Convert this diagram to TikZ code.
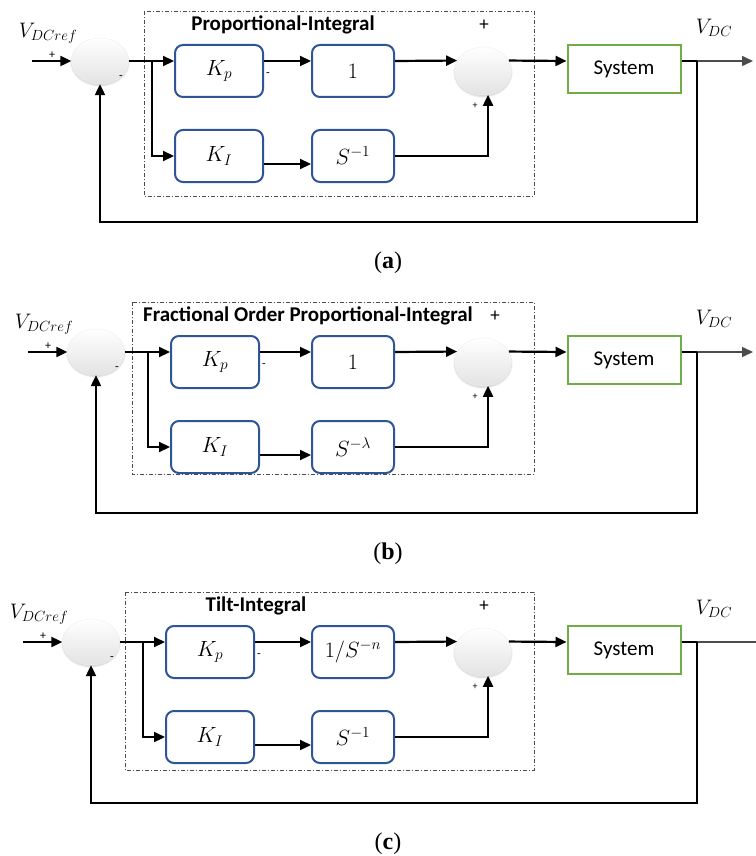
\RequirePackage{fix-cm}
\documentclass[tikz,border=0pt]{standalone}
\usepackage{fontspec}
\newfontfamily\calibrifont{Carlito}
\newfontfamily\captionfont{Liberation Serif}
\usetikzlibrary{arrows.meta,shapes.geometric,shadows.blur}
\definecolor{blockblue}{RGB}{47,85,151}
\definecolor{plantgreen}{RGB}{112,173,71}
\tikzset{
	block/.style={draw=blockblue, line width=2pt, rounded corners=8pt,
			minimum height=52pt, font=\fontsize{22}{26}\selectfont},
	plant/.style={draw=plantgreen, line width=2pt, minimum width=113pt,
			minimum height=48pt, font=\calibrifont\fontsize{21}{25}\selectfont},
	summer/.style={ellipse, draw=gray!12, top color=white, middle color=white, bottom color=gray!22,
			minimum width=57pt, minimum height=46pt,
			blur shadow={shadow xshift=0pt, shadow yshift=-1.5pt, shadow blur steps=6, shadow opacity=20}},
	frame/.style={draw=gray!60!black, line width=0.9pt, dash pattern=on 4pt off 2pt on 1pt off 2pt},
	wire/.style={line width=2.2pt},
	sign/.style={inner sep=0pt, font=\calibrifont\fontsize{#1}{#1}\selectfont},
	heading/.style={font=\calibrifont\bfseries\fontsize{21}{25}\selectfont},
	mathlabel/.style={font=\fontsize{21}{25}\selectfont}
}

\begin{document}
\begin{tikzpicture}[x=1pt, y=-1pt, >={Triangle[length=11pt,width=10pt]}]
	\useasboundingbox (0,0) rectangle (755,856);

	% one panel per controller: (a) PI, (b) FOPI, (c) TI
	\foreach \dy/\dx/\bl/\bb/\tx/\heading/\px/\gain/\integ/\lab/\ox in {
			0/0/144/196/283/{Proportional-Integral}/484/{1}/{S^{-1}}/a/753,
			291/-4/132/183/308/{Fractional Order Proportional-Integral}/495/{1}/{S^{-\lambda}}/b/753,
			581/-9/125/189/256/{Tilt-Integral}/484/{1/S^{-n}}/{S^{-1}}/c/770}{
		\begin{scope}[shift={(0,\dy)}]

			% reference input and first summing junction
			\node[summer] (sum1) at (100+\dx,61) {};
			\coordinate (in) at (32+\dx,61);
			\node[mathlabel] (vref) at (48+\dx,33) {$V_{DCref}$};
			\node[sign=12] (pin) at (52+\dx,55) {+};
			\node[sign=12] (mfb) at (121+\dx,78) {-};
			\coordinate (br) at (152+\dx,61);

			% controller blocks
			\draw[frame] (\bl,11) rectangle (534,\bb);
			\node[heading] (name) at (\tx,25) {\heading};
			\node[block, minimum width=88pt] (kp) at (219+\dx,71) {$K_p$};
			\node[block, minimum width=88pt] (ki) at (219+\dx,156) {$K_I$};
			\node[block, minimum width=82pt] (one) at (353,71) {$\gain$};
			\node[block, minimum width=82pt] (sinv) at (353,156) {$\integ$};
			\node[sign=12] (mkp) at (268+\dx,75) {-};

			% second summing junction and plant
			\node[summer, minimum height=48pt] (sum2) at (483,71) {};
			\node[sign=19] (pa) at (\px,25) {+};
			\node[sign=10] (pb) at (475,106) {+};
			\node[plant] (sys) at (624,69) {System};
			\node[mathlabel] (vdc) at (714,28) {$V_{DC}$};
			\coordinate (tap) at (697,61);
			\coordinate (out) at (\ox,61);
			\coordinate (fb) at (697,222);

			% forward path
			\draw[wire,->] (in) -- (sum1);
			\draw[wire] (sum1) -- (br);
			\draw[wire,->] (br) -- (kp.west |- br);
			\draw[wire,->] (br) |- (ki);
			\draw[wire,->] (kp.east |- br) -- (one.west |- br);
			\draw[wire,->] ([yshift=-8pt]ki.east) -- ([yshift=-8pt]ki.east -| sinv.west);
			\draw[wire,->] (one.east |- br) -- (sum2.158);
			\draw[wire,->] (sinv) -| (sum2.-78);
			\draw[wire,->] (sum2.22) -- (sys.west |- br);
			\draw[wire] (sys.east |- br) -- (tap);
			\draw[wire,->,line width=1.5pt,draw=gray!60!black] (tap) -- (out);

			% feedback path
			\draw[wire,->] (tap) -- (fb) -| (sum1);

			\node[font=\captionfont\fontsize{24}{28}\selectfont] (cap) at (388,263) {(\textbf{\lab})};
		\end{scope}
	}
\end{tikzpicture}
\end{document}
